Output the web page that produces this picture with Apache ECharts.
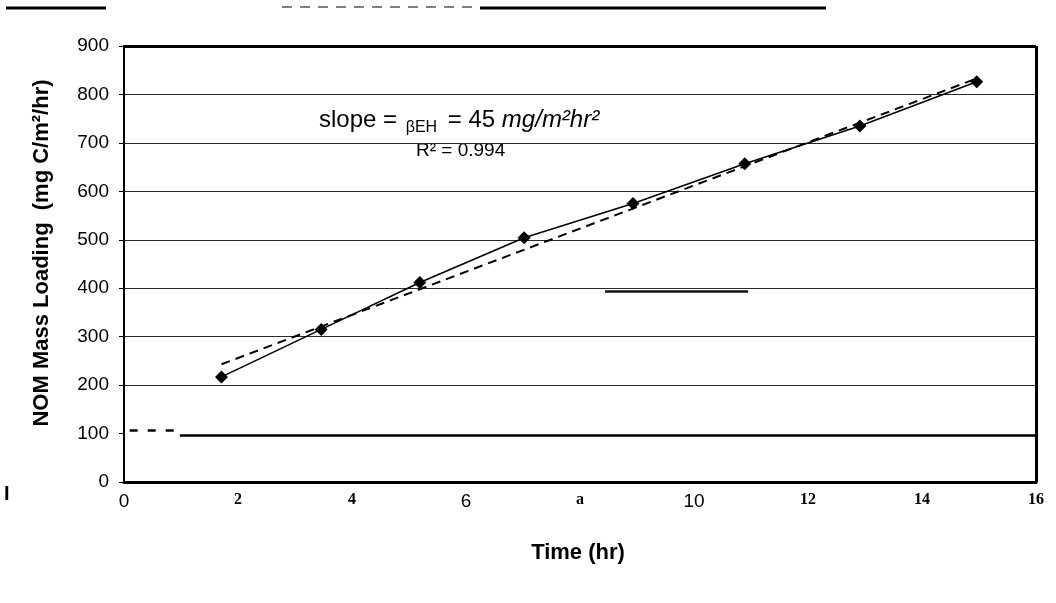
<!DOCTYPE html>
<html>
<head>
<meta charset="utf-8">
<script src="https://cdn.jsdelivr.net/npm/echarts@6/dist/echarts.min.js"></script>
<style>
  html, body { margin: 0; padding: 0; background: #fff; }
  #chart { width: 1056px; height: 603px; }
</style>
</head>
<body>
<div id="chart"></div>
<script>
// ---- data ----
const timeHr = [1.71, 3.46, 5.19, 7.02, 8.93, 10.89, 12.91, 14.96];
const massLoading = [217, 315, 412, 504, 575, 657, 735, 826];
const fitTime = [1.71, 14.96];
const fitLoading = [243, 833];
const xTickValues = [0, 2, 4, 6, 8, 10, 12, 14, 16];
const xTickLabels = ['0', '2', '4', '6', 'a', '10', '12', '14', '16'];
const yGridValues = [200, 300, 400, 500, 600, 700, 800];
const slopeValue = '45';
const r2Value = '0.994';

// ---- build chart ----
const sansLabels = ['0', '6', '10'];
const chart = echarts.init(document.getElementById('chart'));

const measured = timeHr.map((t, i) => [t, massLoading[i]]);
const fit = fitTime.map((t, i) => [t, fitLoading[i]]);

const thin = { color: '#2a2a2a', width: 1, type: 'solid' };
const markLines = yGridValues.map(v => ({ yAxis: v, lineStyle: thin }));
markLines.push({ yAxis: 900, lineStyle: { color: '#000', width: 3, type: 'solid' } });
markLines.push({ xAxis: 16, lineStyle: { color: '#000', width: 3, type: 'solid' } });
// the 100 line: short dashes at the left, then a heavy solid line
markLines.push([{ coord: [0.1, 106], lineStyle: { color: '#000', width: 2.5, type: [8, 10] } }, { coord: [0.95, 106] }]);
markLines.push([{ coord: [0.98, 97], lineStyle: { color: '#000', width: 2.5, type: 'solid' } }, { coord: [16, 97] }]);
// heavier piece on the 400 line
markLines.push([{ coord: [8.44, 393], lineStyle: { color: '#111', width: 2.5, type: 'solid' } }, { coord: [10.95, 393] }]);

const option = {
  animation: false,
  backgroundColor: '#fff',
  grid: { left: 124, right: 20, top: 46, bottom: 121 },
  xAxis: {
    type: 'value', min: 0, max: 16, interval: 2,
    axisLine: { show: true, lineStyle: { color: '#000', width: 3 } },
    axisTick: { show: false },
    splitLine: { show: false },
    axisLabel: {
      margin: 10,
      formatter: function (v) {
        const i = xTickValues.indexOf(v);
        const lab = i >= 0 ? xTickLabels[i] : '';
        return '{' + (sansLabels.indexOf(lab) >= 0 ? 's' : 'r') + '|' + lab + '}';
      },
      rich: {
        s: { fontFamily: 'Liberation Sans, Arial', fontSize: 19, color: '#000' },
        r: { fontFamily: 'Liberation Serif, Times New Roman', fontWeight: 'bold', fontSize: 16, color: '#000' }
      }
    }
  },
  yAxis: {
    type: 'value', min: 0, max: 900, interval: 100,
    axisLine: { show: true, lineStyle: { color: '#000', width: 2 } },
    axisTick: { show: true, inside: false, length: 5, lineStyle: { color: '#000', width: 1 } },
    splitLine: { show: false },
    axisLabel: { margin: 15, fontFamily: 'Liberation Sans, Arial', fontSize: 19, color: '#000' }
  },
  series: [
    {
      name: 'measured', type: 'line', data: measured,
      symbol: 'diamond', symbolSize: 13, showSymbol: true,
      itemStyle: { color: '#000' },
      lineStyle: { color: '#000', width: 1.6 },
      z: 5
    },
    {
      name: 'fit', type: 'line', data: fit,
      symbol: 'none',
      lineStyle: { color: '#000', width: 2, type: [9, 6] },
      z: 4,
      markLine: { silent: true, symbol: 'none', label: { show: false }, data: markLines, z: 1 }
    }
  ],
  graphic: [
    {
      type: 'text', left: 4, top: 484,
      style: { text: 'I', font: 'bold 20px "Liberation Sans", Arial', fill: '#000' }
    },
    {
      type: 'text', x: 42, y: 253, rotation: Math.PI / 2,
      style: {
        text: 'NOM Mass Loading  (mg C/m²/hr)',
        font: 'bold 22px "Liberation Sans", Arial', fill: '#000',
        align: 'center', verticalAlign: 'middle'
      }
    },
    {
      type: 'text', x: 578, y: 553,
      style: {
        text: 'Time (hr)', font: 'bold 22px "Liberation Sans", Arial', fill: '#000',
        align: 'center', verticalAlign: 'middle'
      }
    },
    {
      type: 'text', x: 319, y: 120,
      style: {
        text: '{a|slope = }{b|βEH}{a| = ' + slopeValue + ' }{c|mg/m²hr²}',
        verticalAlign: 'middle',
        rich: {
          a: { font: '24px "Liberation Sans", Arial', fill: '#000', lineHeight: 32, verticalAlign: 'middle' },
          b: { font: '16px "Liberation Sans", Arial', fill: '#000', lineHeight: 32, verticalAlign: 'bottom', padding: [0, 4, 0, 2] },
          c: { font: 'italic 24px "Liberation Sans", Arial', fill: '#000', lineHeight: 32, verticalAlign: 'middle' }
        }
      }
    },
    {
      type: 'text', x: 416, y: 151,
      style: {
        text: 'R² = ' + r2Value, font: '19px "Liberation Sans", Arial', fill: '#000',
        verticalAlign: 'middle'
      }
    },
    { type: 'line', shape: { x1: 6, y1: 8, x2: 106, y2: 8 }, style: { stroke: '#000', lineWidth: 3 } },
    { type: 'line', shape: { x1: 480, y1: 8, x2: 826, y2: 8 }, style: { stroke: '#000', lineWidth: 3 } },
    { type: 'line', shape: { x1: 282, y1: 7, x2: 478, y2: 7 }, style: { stroke: '#555', lineWidth: 1.5, lineDash: [10, 8] } }
  ]
};
chart.setOption(option);
</script>
</body>
</html>
